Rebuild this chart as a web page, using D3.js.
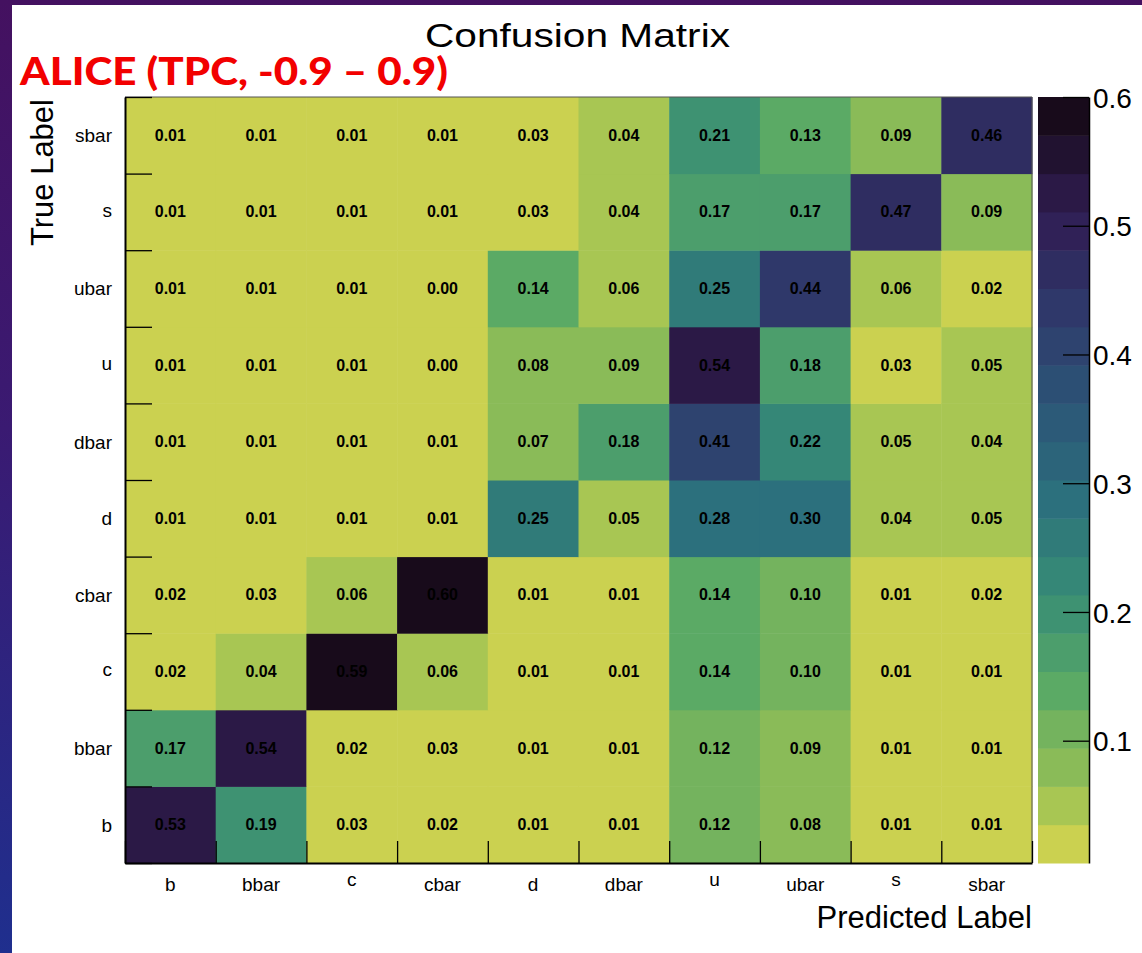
<!DOCTYPE html>
<html>
<head>
<meta charset="utf-8">
<script src="https://cdn.jsdelivr.net/npm/d3@7"></script>
<style>
  html, body { margin: 0; padding: 0; background: #ffffff; }
  svg { display: block; }
</style>
</head>
<body>
<svg id="chart" width="1142" height="953"></svg>
<script>
// ---- data ----------------------------------------------------------------
const predictedLabels = ["b", "bbar", "c", "cbar", "d", "dbar", "u", "ubar", "s", "sbar"];
const trueLabels      = ["b", "bbar", "c", "cbar", "d", "dbar", "u", "ubar", "s", "sbar"];

// one row per true label, columns follow predictedLabels
const rowB    = [0.53, 0.19, 0.03, 0.02, 0.01, 0.01, 0.12, 0.08, 0.01, 0.01];
const rowBbar = [0.17, 0.54, 0.02, 0.03, 0.01, 0.01, 0.12, 0.09, 0.01, 0.01];
const rowC    = [0.02, 0.04, 0.59, 0.06, 0.01, 0.01, 0.14, 0.10, 0.01, 0.01];
const rowCbar = [0.02, 0.03, 0.06, 0.60, 0.01, 0.01, 0.14, 0.10, 0.01, 0.02];
const rowD    = [0.01, 0.01, 0.01, 0.01, 0.25, 0.05, 0.28, 0.30, 0.04, 0.05];
const rowDbar = [0.01, 0.01, 0.01, 0.01, 0.07, 0.18, 0.41, 0.22, 0.05, 0.04];
const rowU    = [0.01, 0.01, 0.01, 0.00, 0.08, 0.09, 0.54, 0.18, 0.03, 0.05];
const rowUbar = [0.01, 0.01, 0.01, 0.00, 0.14, 0.06, 0.25, 0.44, 0.06, 0.02];
const rowS    = [0.01, 0.01, 0.01, 0.01, 0.03, 0.04, 0.17, 0.17, 0.47, 0.09];
const rowSbar = [0.01, 0.01, 0.01, 0.01, 0.03, 0.04, 0.21, 0.13, 0.09, 0.46];

const colorbarTicks = [0.1, 0.2, 0.3, 0.4, 0.5, 0.6];
const zMin = 0.005, zMax = 0.6;
const nContours = 20;

const matrixRows = [rowB, rowBbar, rowC, rowCbar, rowD, rowDbar, rowU, rowUbar, rowS, rowSbar];

// ---- layout ----------------------------------------------------------------
const W = 1142, H = 953;
const plot = { left: 125, right: 1032, top: 97, bottom: 863 };
const cbar = { left: 1038, right: 1089 };
const font = "'Liberation Sans', Arial, Helvetica, sans-serif";

const svg = d3.select("#chart");

// slide background with the white canvas on top
const defs = svg.append("defs");
const grad = defs.append("linearGradient").attr("id", "slideBg")
  .attr("x1", 0).attr("y1", 0).attr("x2", 0).attr("y2", 1);
grad.append("stop").attr("offset", "0%").attr("stop-color", "#441160");
grad.append("stop").attr("offset", "45%").attr("stop-color", "#3a1a72");
grad.append("stop").attr("offset", "100%").attr("stop-color", "#1f2f8e");
svg.append("rect").attr("width", W).attr("height", H).attr("fill", "url(#slideBg)");
svg.append("rect").attr("x", 12).attr("y", 5).attr("width", W - 12).attr("height", H - 5)
  .attr("fill", "#ffffff");

// ---- colour palette (inverted viridis, 20 contour bands) -------------------
const viridisStops = [0, 0.125, 0.25, 0.375, 0.5, 0.625, 0.75, 0.875, 1];
const viridisColors = [
  "rgb(26,9,30)", "rgb(51,24,96)", "rgb(43,55,122)", "rgb(33,87,133)", "rgb(28,118,135)",
  "rgb(35,150,119)", "rgb(74,180,89)", "rgb(144,200,57)", "rgb(246,222,33)"
];
const palette = d3.scaleLinear().domain(viridisStops).range(viridisColors)
  .interpolate(d3.interpolateRgb);
const nColors = 255;
const muting = 0.25; // pull each band colour toward its own grey level
function bandColor(i) {
  const k = Math.floor((i + 0.99) * nColors / nContours);
  const c = d3.rgb(palette((nColors - 1 - k) / (nColors - 1)));
  const g = 0.299 * c.r + 0.587 * c.g + 0.114 * c.b;
  return d3.interpolateRgb(c, d3.rgb(g, g, g))(muting);
}
const band = d3.scaleQuantize().domain([zMin, zMax]).range(d3.range(nContours));
function cellColor(v) {
  return bandColor(band(Math.max(zMin, Math.min(zMax, v))));
}

// ---- scales -----------------------------------------------------------------
const x = d3.scaleBand().domain(predictedLabels).range([plot.left, plot.right]);
const y = d3.scaleBand().domain(trueLabels).range([plot.bottom, plot.top]);
const xEdge = d3.scaleLinear().domain([0, predictedLabels.length]).range([plot.left, plot.right]);
const yEdge = d3.scaleLinear().domain([0, trueLabels.length]).range([plot.bottom, plot.top]);
const z = d3.scaleLinear().domain([zMin, zMax]).range([plot.bottom, plot.top]);

// ---- cells -----------------------------------------------------------------
const cells = [];
matrixRows.forEach((row, r) => row.forEach((v, c) => cells.push({
  t: trueLabels[r], p: predictedLabels[c], v
})));

const gCells = svg.append("g");
gCells.selectAll("rect").data(cells).join("rect")
  .attr("x", d => x(d.p))
  .attr("y", d => y(d.t))
  .attr("width", x.bandwidth() + 0.5)
  .attr("height", y.bandwidth() + 0.5)
  .attr("fill", d => cellColor(d.v));

gCells.selectAll("text").data(cells).join("text")
  .attr("x", d => x(d.p) + x.bandwidth() / 2)
  .attr("y", d => y(d.t) + y.bandwidth() / 2)
  .attr("text-anchor", "middle")
  .attr("dominant-baseline", "central")
  .attr("font-family", font)
  .attr("font-weight", "bold")
  .attr("font-size", 16)
  .attr("fill", "#000")
  .text(d => d.v.toFixed(2));

// ---- frame & axes ------------------------------------------------------------
svg.append("path")
  .attr("d", `M${plot.left},${plot.top}H${plot.right}V${plot.bottom}`)
  .attr("fill", "none").attr("stroke", "#555").attr("stroke-width", 1);

const xAxis = svg.append("g").attr("transform", `translate(0,${plot.bottom})`)
  .call(d3.axisBottom(xEdge).tickValues(d3.range(predictedLabels.length + 1))
    .tickSize(-22).tickSizeOuter(0).tickFormat(""));
const yAxis = svg.append("g").attr("transform", `translate(${plot.left},0)`)
  .call(d3.axisLeft(yEdge).tickValues(d3.range(trueLabels.length + 1))
    .tickSize(-27).tickSizeOuter(0).tickFormat(""));
[xAxis, yAxis].forEach(g => {
  g.select(".domain").attr("stroke", "#000").attr("stroke-width", 2);
  g.selectAll(".tick line").attr("stroke", "#000").attr("stroke-width", 1.3);
});

// tick labels: glyphs without ascenders sit higher, as in the plotting style used
const hasAscender = s => /[bdfhklt]/.test(s);
const labelSize = 19;
svg.append("g").selectAll("text").data(predictedLabels).join("text")
  .attr("x", d => x(d) + x.bandwidth() / 2)
  .attr("y", d => hasAscender(d) ? 891 : 886)
  .attr("text-anchor", "middle")
  .attr("font-family", font).attr("font-size", labelSize).attr("fill", "#000")
  .text(d => d);

svg.append("g").selectAll("text").data(trueLabels).join("text")
  .attr("x", 112)
  .attr("y", d => y(d) + y.bandwidth() / 2 + (hasAscender(d) ? 0.72 : 0.52) * labelSize / 2)
  .attr("text-anchor", "end")
  .attr("font-family", font).attr("font-size", labelSize).attr("fill", "#000")
  .text(d => d);

// ---- colour bar ----------------------------------------------------------------
const bandWidth = (zMax - zMin) / nContours;
svg.append("g").selectAll("rect").data(d3.range(nContours)).join("rect")
  .attr("x", cbar.left)
  .attr("y", i => z(zMin + (i + 1) * bandWidth))
  .attr("width", cbar.right - cbar.left)
  .attr("height", i => z(zMin + i * bandWidth) - z(zMin + (i + 1) * bandWidth) + 0.5)
  .attr("fill", i => bandColor(i));

const zAxis = svg.append("g").attr("transform", `translate(${cbar.right},0)`)
  .call(d3.axisRight(z).tickValues(colorbarTicks).tickSize(-26).tickSizeOuter(0)
    .tickFormat(d3.format(".1f")));
zAxis.select(".domain").attr("stroke", "#000").attr("stroke-width", 1.5);
zAxis.selectAll(".tick line").attr("stroke", "#000").attr("stroke-width", 1.3);
zAxis.selectAll(".tick text")
  .attr("x", 4).attr("dy", "0.36em")
  .attr("font-family", font).attr("font-size", 28).attr("fill", "#000");

// ---- titles ----------------------------------------------------------------
svg.append("text")
  .attr("x", 425).attr("y", 47)
  .attr("font-family", font).attr("font-size", 33).attr("fill", "#000")
  .attr("textLength", 305).attr("lengthAdjust", "spacingAndGlyphs")
  .text("Confusion Matrix");

svg.append("text")
  .attr("transform", `translate(53,${plot.top + 2}) rotate(-90)`)
  .attr("text-anchor", "end")
  .attr("font-family", font).attr("font-size", 31).attr("fill", "#000")
  .text("True Label");

svg.append("text")
  .attr("x", plot.right).attr("y", 928)
  .attr("text-anchor", "end")
  .attr("font-family", font).attr("font-size", 31).attr("fill", "#000")
  .text("Predicted Label");

svg.append("text")
  .attr("x", 20).attr("y", 85)
  .attr("font-family", "Lato, 'Open Sans', sans-serif").attr("font-weight", 900)
  .attr("font-size", 38).attr("fill", "#f20000")
  .attr("textLength", 428).attr("lengthAdjust", "spacingAndGlyphs")
  .text("ALICE (TPC, -0.9 – 0.9)");
</script>
</body>
</html>
